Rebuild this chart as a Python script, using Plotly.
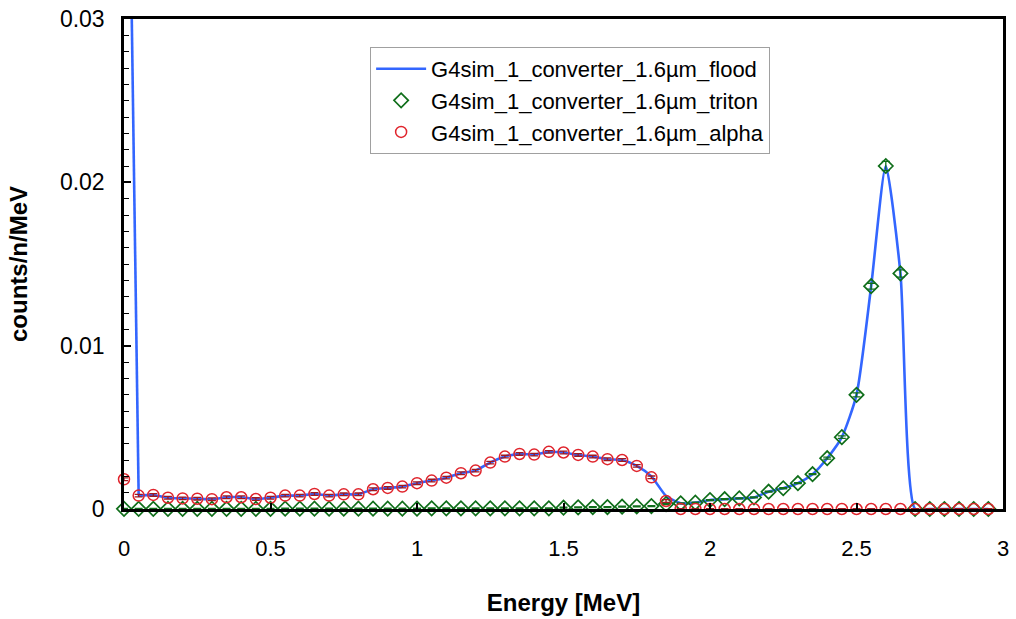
import plotly.graph_objects as go

# Energy bin centres [MeV]
energy = [0.00, 0.05, 0.10, 0.15, 0.20, 0.25, 0.30, 0.35, 0.40, 0.45,
          0.50, 0.55, 0.60, 0.65, 0.70, 0.75, 0.80, 0.85, 0.90, 0.95,
          1.00, 1.05, 1.10, 1.15, 1.20, 1.25, 1.30, 1.35, 1.40, 1.45,
          1.50, 1.55, 1.60, 1.65, 1.70, 1.75, 1.80, 1.85, 1.90, 1.95,
          2.00, 2.05, 2.10, 2.15, 2.20, 2.25, 2.30, 2.35, 2.40, 2.45,
          2.50, 2.55, 2.60, 2.65, 2.70, 2.75, 2.80, 2.85, 2.90, 2.95]

# Total deposited spectrum (flood)
flood = [0.0630, 0.00082, 0.00086, 0.00069, 0.00065, 0.00063, 0.00060, 0.00072, 0.00072, 0.00061,
         0.00069, 0.00082, 0.00082, 0.00092, 0.00082, 0.00090, 0.00090, 0.00121, 0.00129, 0.00137,
         0.00158, 0.00174, 0.00192, 0.00219, 0.00235, 0.00284, 0.00321, 0.00337, 0.00333, 0.00350,
         0.00346, 0.00331, 0.00321, 0.00305, 0.00300, 0.00264, 0.00200, 0.00080, 0.00035, 0.00039,
         0.00055, 0.00060, 0.00065, 0.00071, 0.00106, 0.00127, 0.00158, 0.00213, 0.00311, 0.00440,
         0.00699, 0.01364, 0.02100, 0.01442, 0.0, 0.0, 0.0, 0.0, 0.0, 0.0]

# Triton component
triton = [0.00001, 0.00001, 0.00001, 0.00001, 0.00001, 0.00001, 0.00001, 0.00001, 0.00001, 0.00001,
          0.00001, 0.00002, 0.00002, 0.00002, 0.00002, 0.00002, 0.00002, 0.00002, 0.00002, 0.00002,
          0.00002, 0.00004, 0.00004, 0.00004, 0.00004, 0.00004, 0.00004, 0.00004, 0.00004, 0.00004,
          0.00008, 0.00010, 0.00012, 0.00012, 0.00014, 0.00016, 0.00018, 0.00030, 0.00035, 0.00039,
          0.00055, 0.00060, 0.00065, 0.00071, 0.00106, 0.00127, 0.00158, 0.00213, 0.00311, 0.00440,
          0.00699, 0.01364, 0.02100, 0.01442, 0.0, 0.0, 0.0, 0.0, 0.0, 0.0]
triton_err = [0.00003] * 48 + [0.00006, 0.00008, 0.00012, 0.00018, 0.00028, 0.00022,
                                0.00002, 0.00002, 0.00002, 0.00002, 0.00002, 0.00002]

# Alpha component
alpha = [0.00182, 0.00082, 0.00086, 0.00069, 0.00065, 0.00063, 0.00060, 0.00072, 0.00072, 0.00061,
         0.00069, 0.00082, 0.00082, 0.00092, 0.00082, 0.00090, 0.00090, 0.00121, 0.00129, 0.00137,
         0.00158, 0.00174, 0.00192, 0.00219, 0.00235, 0.00284, 0.00321, 0.00337, 0.00333, 0.00350,
         0.00346, 0.00331, 0.00321, 0.00305, 0.00300, 0.00264, 0.00194, 0.00049, 0.0, 0.0,
         0.0, 0.0, 0.0, 0.0, 0.0, 0.0, 0.0, 0.0, 0.0, 0.0,
         0.0, 0.0, 0.0, 0.0, 0.0, 0.0, 0.0, 0.0, 0.0, 0.0]
alpha_err = [0.00008] * 38 + [0.00002] * 22

x_ticks = [0, 0.5, 1, 1.5, 2, 2.5, 3]
x_ticklabels = ["0", "0.5", "1", "1.5", "2", "2.5", "3"]
y_ticks = [0, 0.01, 0.02, 0.03]
y_ticklabels = ["0", "0.01", "0.02", "0.03"]

BLUE = "#3366ff"
GREEN = "#0f6e1a"
RED = "#e0242c"
FONT = "Liberation Sans, Arial, sans-serif"
FLOOD_NAME = "G4sim_1_converter_1.6µm_flood"

fig = go.Figure()
# flood: the steep first bin is drawn straight, the rest as a smoothed curve
fig.add_trace(go.Scatter(
    x=energy[:2], y=flood[:2], mode="lines", name=FLOOD_NAME,
    legendgroup="flood", showlegend=False,
    line=dict(color=BLUE, width=2.6, shape="linear"),
))
fig.add_trace(go.Scatter(
    x=energy[1:], y=flood[1:], mode="lines", name=FLOOD_NAME,
    legendgroup="flood",
    line=dict(color=BLUE, width=2.6, shape="spline", smoothing=0.6),
))
fig.add_trace(go.Scatter(
    x=energy, y=triton, mode="markers", name="G4sim_1_converter_1.6µm_triton",
    marker=dict(symbol="diamond-open", size=11, color=GREEN, line=dict(width=1.7, color=GREEN)),
    error_y=dict(type="data", array=triton_err, color=GREEN, thickness=1.3, width=4),
    cliponaxis=False,
))
fig.add_trace(go.Scatter(
    x=energy, y=alpha, mode="markers", name="G4sim_1_converter_1.6µm_alpha",
    marker=dict(symbol="circle-open", size=11, color=RED, line=dict(width=1.5, color=RED)),
    error_y=dict(type="data", array=alpha_err, color="#a01820", thickness=1.3, width=4),
    cliponaxis=False,
))

fig.update_layout(
    width=1016, height=619,
    margin=dict(l=124, r=13, t=19, b=110),
    paper_bgcolor="white", plot_bgcolor="white",
    font=dict(family=FONT, color="black", size=22),
    showlegend=True,
    legend=dict(
        x=0.28, y=0.943, xanchor="left", yanchor="top",
        bgcolor="white", bordercolor="#a0a0a0", borderwidth=1,
        font=dict(family=FONT, size=22, color="black"),
        itemwidth=50, tracegroupgap=0,
    ),
    xaxis=dict(
        range=[0, 3], tickvals=x_ticks, ticktext=x_ticklabels,
        ticks="inside", ticklen=6, tickwidth=1.5, tickcolor="black",
        showline=True, linecolor="black", linewidth=2.5, mirror=True,
        showgrid=False, zeroline=False, ticklabelstandoff=18, automargin=False,
        tickfont=dict(size=22),
        title=dict(text="<b>Energy [MeV]</b>", font=dict(family=FONT, size=24), standoff=35),
    ),
    yaxis=dict(
        range=[0, 0.03], tickvals=y_ticks, ticktext=y_ticklabels,
        ticks="inside", ticklen=7, tickwidth=1.5, tickcolor="black",
        minor=dict(dtick=0.001, ticks="inside", ticklen=5, tickwidth=1.2, tickcolor="black"),
        showline=True, linecolor="black", linewidth=2.5, mirror=True,
        showgrid=False, zeroline=False, ticklabelstandoff=12, automargin=False,
        tickfont=dict(size=23),
        title=dict(text="<b>counts/n/MeV</b>", font=dict(family=FONT, size=24), standoff=26),
    ),
)

fig.write_html("out.html")
